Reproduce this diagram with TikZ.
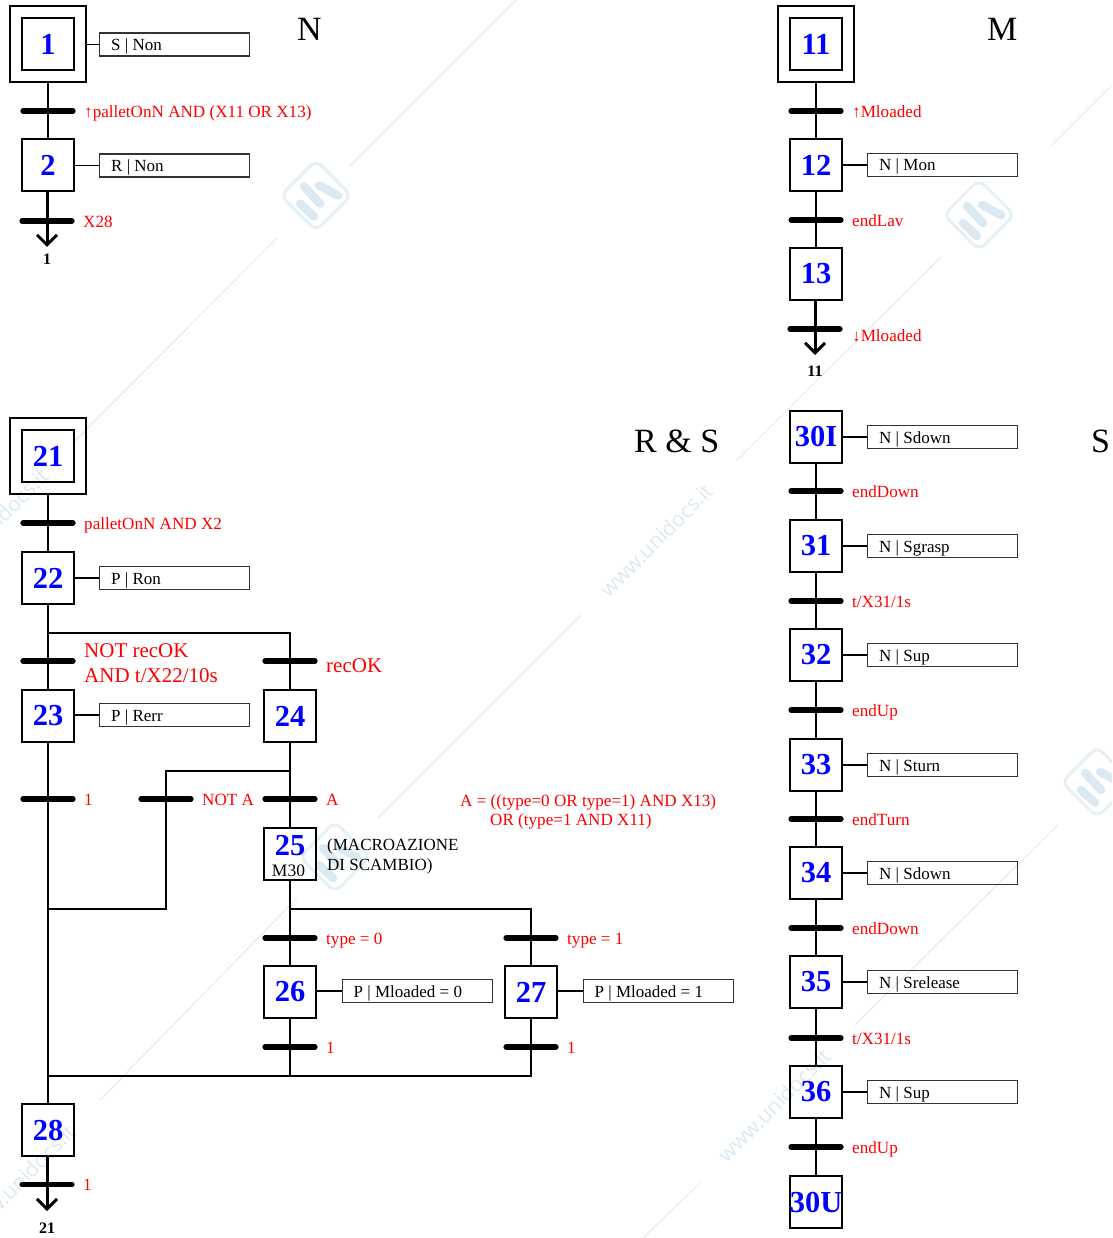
\documentclass[tikz,border=0pt]{standalone}
\usepackage{fontspec}
\setmainfont{Liberation Serif}
\newfontfamily\wmfont{Open Sans}
\usetikzlibrary{arrows.meta}
\definecolor{wm}{HTML}{E6F0F7}
\definecolor{wmd}{HTML}{DBE9F3}
\tikzset{
  stepbox/.style={draw=black,line width=2.2pt,minimum size=51.5pt,inner sep=0pt,text=blue,font=\fontsize{30.5}{30.5}\selectfont\bfseries},
  outerbox/.style={draw=black,line width=2.2pt,minimum size=76pt,inner sep=0pt},
  actbox/.style={draw=black!80,line width=1.2pt,minimum width=150pt,minimum height=23pt,inner sep=0pt,anchor=west},
  acttext/.style={anchor=base west,inner sep=0pt,font=\fontsize{17}{17}\selectfont},
  cond/.style={anchor=base west,inner sep=0pt,text=red,font=\fontsize{17.1}{17.1}\selectfont},
  bigcond/.style={anchor=base west,inner sep=0pt,text=red,font=\fontsize{21}{21}\selectfont},
  title/.style={anchor=base west,inner sep=0pt,font=\fontsize{34}{34}\selectfont},
  jumplabel/.style={inner sep=0pt,font=\fontsize{16}{16}\selectfont\bfseries},
  link/.style={line width=2.4pt,draw=black},
  thin link/.style={line width=1.8pt,draw=black},
  bar/.style={line width=5.2pt,line cap=round,draw=black},
  jump/.style={line width=3pt,draw=black,-{Straight Barb[length=10pt,width=20pt,line width=3pt]}},
  wmline/.style={line width=1.5pt,draw=wm},
  wmtext/.style={inner sep=0pt,rotate=45,text=wmd,font=\wmfont\fontsize{21}{21}\selectfont}
}
% step: name, x, y, label
\newcommand{\stepat}[4]{\node[stepbox] (#1) at (#2,#3) {\raisebox{-1.5pt}{#4}};}
% initial step
\newcommand{\initstep}[4]{\node[outerbox] (#1o) at (#2,#3) {};\node[stepbox] (#1) at (#2,#3) {\raisebox{-1.5pt}{#4}};}
% transition: name, x, y, label
\newcommand{\trans}[4]{\coordinate (#1) at (#2,#3);
  \draw[bar] ([xshift=-25pt]#1.center) -- ([xshift=25pt]#1.center);
  \node[cond] (#1l) at (#2+36,#3+6.2) {#4};}
% action: step name, box name, step x, y of box centre, text
\newcommand{\act}[5]{\node[actbox] (#2) at (#3+51,#4) {};
  \node[acttext] (#2t) at ([xshift=12pt,yshift=-6pt]#2.west) {#5};
  \draw[thin link] (#1.east |- #2.west) -- (#2.west);}
\newcommand{\wmlogo}[2]{\begin{scope}[shift={(#1,#2)}]
  \draw[wm,line width=3pt,rounded corners=8pt,rotate=45] (-25,-25) rectangle (25,25);
  \draw[wmd,line width=8.5pt,line cap=round] (-16,8) -- (-2,21);
  \draw[wmd,line width=8.5pt,line cap=round] (-12,-9) -- (4,8);
  \draw[wmd,line width=8.5pt,line cap=round] (3,-10) -- (22,0);
  \end{scope}}
\begin{document}
\begin{tikzpicture}[x=1pt,y=-1pt]
\useasboundingbox (0,0) rectangle (1112,1238);
\begin{scope}
\clip (0,0) rectangle (1112,1238);
% watermark
\draw[wmline] (516,0) -- (350,166);
\draw[wmline] (277,238) -- (73,443);
\draw[wmline] (1112,85) -- (1050,147);
\draw[wmline] (941,257) -- (737,460);
\draw[wmline] (581,615) -- (378,818);
\draw[wmline] (297,898) -- (100,1100);
\draw[wmline] (1058,825) -- (855,1025);
\draw[wmline] (700,1183) -- (643,1238);
\wmlogo{316}{195.5}
\wmlogo{979}{215}
\wmlogo{335}{857}
\wmlogo{1097}{782}
\node[wmtext] (wm1) at (656,540) {www.unidocs.it};
\node[wmtext] (wm2) at (774,1105) {www.unidocs.it};
\node[wmtext] (wm3) at (-8,525) {www.unidocs.it};
\node[wmtext] (wm4) at (19,1181) {www.unidocs.it};
\end{scope}

% ===== N =====
\initstep{s1}{48}{44}{1}
\stepat{s2}{48}{165}{2}
\draw[link] (s1o.south) -- (s2.north);
\trans{t1}{48}{111}{↑palletOnN AND (X11 OR X13)}
\coordinate (j1) at (47,247);
\draw[jump] (j1 |- s2.south) -- (j1);
\trans{t2}{47}{221}{X28}
\node[jumplabel] (j1l) at (47,259) {1};
\act{s1o}{a1}{48}{44.5}{S | Non}
\act{s2}{a2}{48}{165.5}{R | Non}
\node[title] (tN) at (297,41) {N};

% ===== M =====
\initstep{s11}{816}{44}{11}
\stepat{s12}{816}{165}{12}
\stepat{s13}{816}{274}{13}
\draw[link] (s11o.south) -- (s12.north);
\draw[link] (s12.south) -- (s13.north);
\trans{t11}{816}{111}{↑Mloaded}
\trans{t12}{816}{220}{endLav}
\coordinate (j2) at (815,355);
\draw[jump] (j2 |- s13.south) -- (j2);
\trans{t13}{815}{329}{}
\node[cond] (t13a) at (852,341) {↓Mloaded};
\node[jumplabel] (j2l) at (815,371) {11};
\act{s12}{a12}{816}{165}{N | Mon}
\node[title] (tM) at (987,41) {M};

% ===== R & S =====
\initstep{s21}{48}{456}{21}
\stepat{s22}{48}{578}{22}
\stepat{s23}{48}{716}{23}
\stepat{s24}{290}{716}{24}
\node[stepbox] (s25) at (290,854) {};
\node[inner sep=0pt,text=blue,font=\fontsize{30.5}{30.5}\selectfont\bfseries] (s25n) at (290,846) {25};
\node[inner sep=0pt,font=\fontsize{17.5}{17.5}\selectfont] (s25m) at (288.5,871) {M30};
\stepat{s26}{290}{992}{26}
\stepat{s27}{531}{992}{27}
\stepat{s28}{48}{1130}{28}
\coordinate (j3) at (47,1211);
\coordinate (b1) at (48,633);
\coordinate (b2) at (290,771);
\coordinate (b3) at (166,771);
\coordinate (b4) at (48,909);
\coordinate (b5) at (290,909);
\coordinate (b6) at (48,1076);
\coordinate (b7) at (290,1076);
\draw[link] (s21o.south) -- (s22.north);
\draw[link] (s22.south) -- (s23.north);
\draw[link] (s23.south) -- (s28.north);
\draw[thin link] (b1) -| (s24.north);
\draw[link] (s24.south) -- (s25.north);
\draw[thin link] (b2) -- (b3) |- (b4);
\draw[link] (s25.south) -- (s26.north);
\draw[thin link] (b5) -| (s27.north);
\draw[link] (s26.south) -- (b7);
\draw[link] (s27.south) |- (b6);
\draw[jump] (j3 |- s28.south) -- (j3);
\trans{t21}{48}{523}{palletOnN AND X2}
\trans{t22}{48}{661}{}
\trans{t23}{290}{661}{}
\node[bigcond] (t22a) at (84,657) {NOT recOK};
\node[bigcond] (t22b) at (84,682) {AND t/X22/10s};
\node[bigcond] (t23a) at (326,672) {recOK};
\trans{t24}{48}{799}{1}
\trans{t25}{166}{799}{NOT A}
\trans{t26}{290}{799}{A}
\trans{t27}{290}{938}{type = 0}
\trans{t28}{531}{938}{type = 1}
\trans{t29}{290}{1047}{1}
\trans{t30}{531}{1047}{1}
\trans{t31}{47}{1184.5}{1}
\node[jumplabel] (j3l) at (47,1228) {21};
\act{s22}{a22}{48}{578}{P | Ron}
\act{s23}{a23}{48}{715}{P | Rerr}
\act{s26}{a26}{290.5}{991}{P | Mloaded = 0}
\act{s27}{a27}{531.5}{991}{P | Mloaded = 1}
\node[acttext] (c1) at (327,850) {(MACROAZIONE};
\node[acttext] (c2) at (327,870) {DI SCAMBIO)};
\node[cond] (eq1) at (460,806) {A = ((type=0 OR type=1) AND X13)};
\node[cond] (eq2) at (490,825) {OR (type=1 AND X11)};
\node[title] (tRS) at (634,452) {R \& S};

% ===== S =====
\stepat{s30}{816}{437}{30I}
\stepat{s31}{816}{546}{31}
\stepat{s32}{816}{655}{32}
\stepat{s33}{816}{765}{33}
\stepat{s34}{816}{873}{34}
\stepat{s35}{816}{982}{35}
\stepat{s36}{816}{1092}{36}
\stepat{s37}{816}{1202}{30U}
\foreach \a/\b in {s30/s31,s31/s32,s32/s33,s33/s34,s34/s35,s35/s36,s36/s37}{
  \draw[link] (\a.south) -- (\b.north);
}
\trans{t40}{816}{491}{endDown}
\trans{t41}{816}{601}{t/X31/1s}
\trans{t42}{816}{710}{endUp}
\trans{t43}{816}{819}{endTurn}
\trans{t44}{816}{928}{endDown}
\trans{t45}{816}{1038}{t/X31/1s}
\trans{t46}{816}{1147}{endUp}
\act{s30}{a30}{816}{437}{N | Sdown}
\act{s31}{a31}{816}{546}{N | Sgrasp}
\act{s32}{a32}{816}{655}{N | Sup}
\act{s33}{a33}{816}{765}{N | Sturn}
\act{s34}{a34}{816}{873}{N | Sdown}
\act{s35}{a35}{816}{982}{N | Srelease}
\act{s36}{a36}{816}{1092}{N | Sup}
\node[title] (tS) at (1091,452) {S};
\end{tikzpicture}
\end{document}
